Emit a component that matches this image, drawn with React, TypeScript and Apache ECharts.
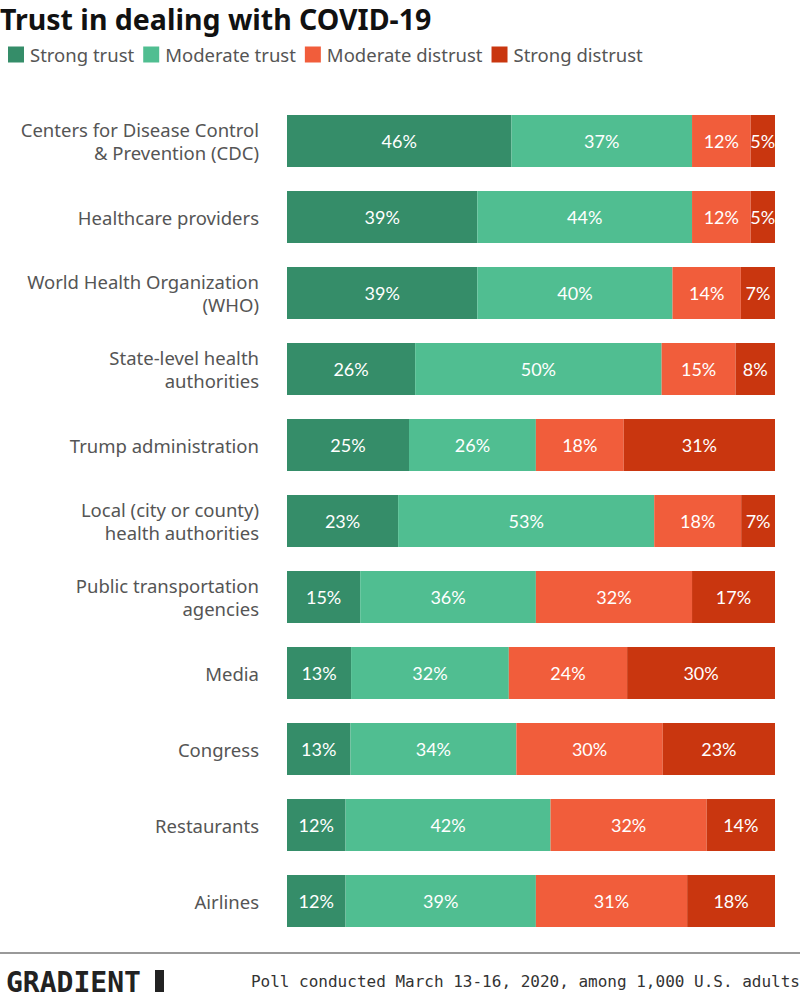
import React, { useEffect, useRef } from "react";
import * as echarts from "echarts";

const categories = [
  "Centers for Disease Control\n& Prevention (CDC)",
  "Healthcare providers",
  "World Health Organization\n(WHO)",
  "State-level health\nauthorities",
  "Trump administration",
  "Local (city or county)\nhealth authorities",
  "Public transportation\nagencies",
  "Media",
  "Congress",
  "Restaurants",
  "Airlines",
];
const seriesNames = ["Strong trust", "Moderate trust", "Moderate distrust", "Strong distrust"];
const strongTrust = [46, 39, 39, 26, 25, 23, 15, 13, 13, 12, 12];
const moderateTrust = [37, 44, 40, 50, 26, 53, 36, 32, 34, 42, 39];
const moderateDistrust = [12, 12, 14, 15, 18, 18, 32, 24, 30, 32, 31];
const strongDistrust = [5, 5, 7, 8, 31, 7, 17, 30, 23, 14, 18];
const colors = ["#358d69", "#50be91", "#f15d3b", "#c9360f"];

export default function App() {
  const ref = useRef<HTMLDivElement>(null);
  useEffect(() => {
    if (!ref.current) return;
    const chart = echarts.init(ref.current, null, { renderer: "svg" });
    const all = [strongTrust, moderateTrust, moderateDistrust, strongDistrust];
    const totals = categories.map((_, i) => all.reduce((s, a) => s + a[i], 0));
    const series = all.map((arr, si) => ({
      name: seriesNames[si],
      type: "bar",
      stack: "total",
      barWidth: 52,
      itemStyle: { color: colors[si] },
      label: {
        show: true,
        position: "inside",
        color: "#ffffff",
        fontFamily: "Lato",
        fontSize: 18,
        formatter: (p: any) => p.data.raw + "%",
      },
      data: arr.map((v, i) => ({ value: (v / totals[i]) * 100, raw: v })),
    }));
    chart.setOption({
      animation: false,
      backgroundColor: "#ffffff",
      title: {
        text: "Trust in dealing with COVID-19",
        left: -5,
        top: -1,
        textStyle: { fontFamily: "Noto Sans", fontWeight: "bold", fontSize: 28.5, color: "#111111" },
      },
      legend: {
        left: 3,
        top: 40,
        itemWidth: 16,
        itemHeight: 16,
        itemGap: 9,
        icon: "rect",
        textStyle: { fontFamily: "Noto Sans", fontSize: 18.5, color: "#555555", padding: [0, 0, 0, 1] },
        data: seriesNames,
      },
      grid: { left: 287, right: 25, top: 103, bottom: 60, containLabel: false },
      xAxis: {
        type: "value",
        min: 0,
        max: 100,
        show: false,
      },
      yAxis: {
        type: "category",
        inverse: true,
        data: categories,
        axisLine: { show: false },
        axisTick: { show: false },
        axisLabel: {
          margin: 28,
          fontFamily: "Noto Sans",
          fontSize: 18.5,
          lineHeight: 23,
          color: "#555555",
          align: "right",
        },
      },
      series,
      graphic: [
        { type: "line", shape: { x1: 0, y1: 953, x2: 800, y2: 953 }, style: { stroke: "#777777", lineWidth: 1.5 } },
        {
          type: "text",
          x: 6,
          y: 982,
          style: {
            text: "GRADIENT",
            font: "bold 28px 'DejaVu Sans Mono'",
            fill: "#222222",
            verticalAlign: "middle",
            textAlign: "left",
          },
        },
        { type: "rect", shape: { x: 155, y: 970, width: 9, height: 22 }, style: { fill: "#222222" } },
        {
          type: "text",
          x: 800,
          y: 981,
          style: {
            text: "Poll conducted March 13-16, 2020, among 1,000 U.S. adults",
            font: "16px 'DejaVu Sans Mono'",
            fill: "#333333",
            verticalAlign: "middle",
            textAlign: "right",
          },
        },
      ],
    });
    return () => chart.dispose();
  }, []);
  return (
    <div
      ref={ref}
      style={{ position: "absolute", left: 0, top: 0, width: 800, height: 999 }}
    />
  );
}
